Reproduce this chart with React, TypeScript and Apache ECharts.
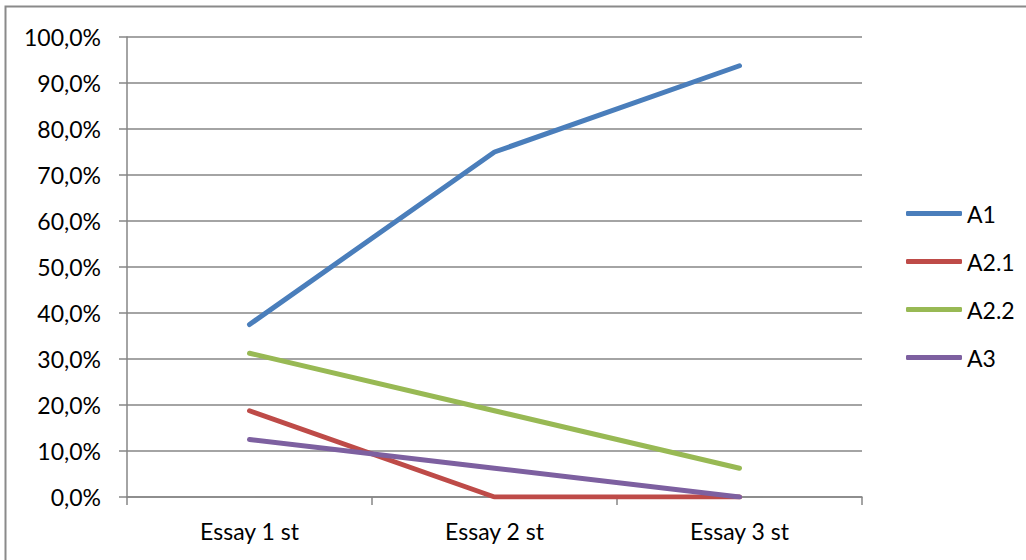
import React, { useEffect, useRef } from "react";
import * as echarts from "echarts";

const categories = ["Essay 1 st", "Essay 2 st", "Essay 3 st"];
const seriesNames = ["A1", "A2.1", "A2.2", "A3"];
const a1 = [37.5, 75, 93.75];
const a21 = [18.75, 0, 0];
const a22 = [31.25, 18.75, 6.25];
const a3 = [12.5, 6.25, 0];
const colors = ["#4A7EBB", "#BE4B48", "#98B954", "#7D60A0"];

const FONT = "Lato, 'Open Sans', sans-serif";
const FS = 23;

export default function App() {
  const ref = useRef<HTMLDivElement>(null);
  useEffect(() => {
    if (!ref.current) return;
    const chart = echarts.init(ref.current, undefined, { renderer: "svg" });
    const values = [a1, a21, a22, a3];
    chart.setOption({
      animation: false,
      backgroundColor: "#ffffff",
      textStyle: { fontFamily: FONT, color: "#000" },
      graphic: [
        {
          type: "rect",
          shape: { x: 5.5, y: 6.5, width: 1040, height: 600 },
          style: { fill: "none", stroke: "#8a8a8a", lineWidth: 2 },
          silent: true,
        },
      ],
      grid: { left: 127, right: 164, top: 37, bottom: 63, containLabel: false },
      legend: {
        orient: "vertical",
        left: 901,
        top: 197,
        itemWidth: 56,
        itemHeight: 5,
        itemGap: 25,
        icon: "roundRect",
        data: seriesNames,
        textStyle: { fontFamily: FONT, fontSize: FS, color: "#000", padding: [0, 0, 0, 0] },
      },
      xAxis: {
        type: "category",
        data: categories,
        boundaryGap: true,
        axisLine: { lineStyle: { color: "#868686", width: 1.5 } },
        axisTick: { show: true, length: 8, lineStyle: { color: "#868686", width: 1.5 } },
        axisLabel: { margin: 22, fontSize: FS, color: "#000", fontFamily: FONT },
        splitLine: { show: false },
      },
      yAxis: {
        type: "value",
        min: 0,
        max: 100,
        interval: 10,
        axisLine: { show: true, lineStyle: { color: "#868686", width: 1.5 } },
        axisTick: { show: true, length: 8, lineStyle: { color: "#868686", width: 1.5 } },
        axisLabel: {
          margin: 26,
          fontSize: FS,
          color: "#000",
          fontFamily: FONT,
          formatter: (v: number) => v.toFixed(1).replace(".", ",") + "%",
        },
        splitLine: { show: true, lineStyle: { color: "#868686", width: 1.5 } },
      },
      series: seriesNames.map((name, i) => ({
        name,
        type: "line",
        data: values[i],
        showSymbol: false,
        symbol: "none",
        color: colors[i],
        lineStyle: { width: 5, color: colors[i], cap: "round", join: "round" },
      })),
    });
    return () => chart.dispose();
  }, []);
  return (
    <div
      ref={ref}
      style={{ position: "fixed", left: 0, top: 0, width: 1026, height: 560 }}
    />
  );
}
